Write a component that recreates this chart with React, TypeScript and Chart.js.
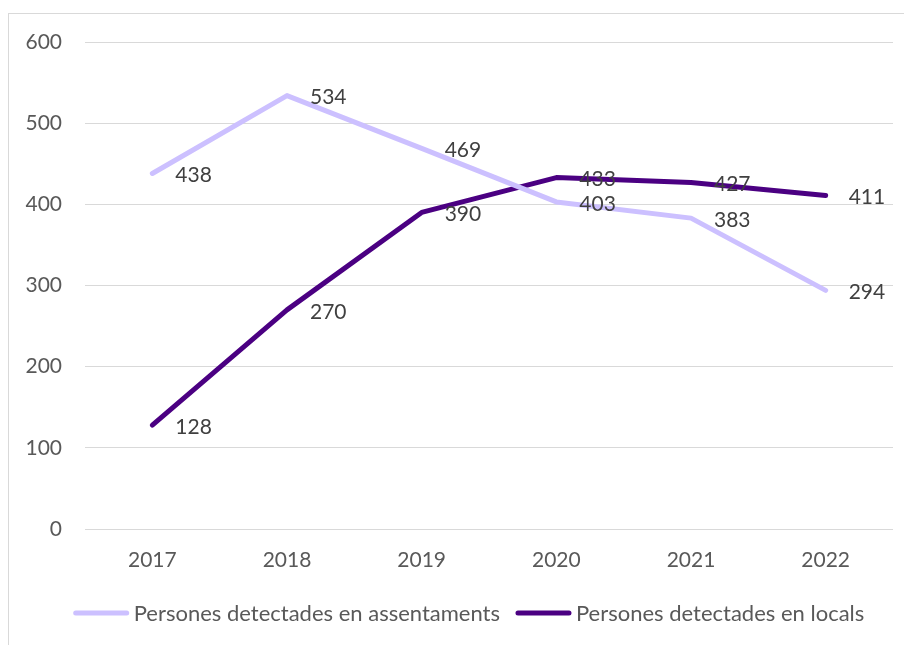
import React, { useEffect, useRef } from "react";
import { Chart, registerables } from "chart.js";

Chart.register(...registerables);

const categories = ["2017", "2018", "2019", "2020", "2021", "2022"];
const seriesNames = ["Persones detectades en assentaments", "Persones detectades en locals"];
const assentaments = [438, 534, 469, 403, 383, 294];
const locals = [128, 270, 390, 433, 427, 411];
const yTicks = [0, 100, 200, 300, 400, 500, 600];

const FONT = "Lato, 'Open Sans', sans-serif";
const FONT_SIZE = 21;
const LEGEND_FONT_SIZE = 22;
const LIGHT = "#CCC0FF";
const DARK = "#4B0082";

const labelPlugin = {
  id: "valueLabels",
  afterDatasetsDraw(chart: any) {
    const ctx = chart.ctx;
    ctx.save();
    ctx.font = `${FONT_SIZE}px ${FONT}`;
    ctx.fillStyle = "#404040";
    ctx.textAlign = "left";
    ctx.textBaseline = "middle";
    chart.data.datasets.forEach((ds: any, i: number) => {
      const meta = chart.getDatasetMeta(i);
      meta.data.forEach((pt: any, j: number) => {
        ctx.fillText(String(ds.data[j]), pt.x + 23, pt.y + 2);
      });
    });
    ctx.restore();
  },
};

const legendPlugin = {
  id: "customLegend",
  afterDraw(chart: any) {
    const ctx = chart.ctx;
    ctx.save();
    ctx.font = `${LEGEND_FONT_SIZE}px ${FONT}`;
    const lineLen = 55;
    const gap = 5;
    const spacing = 16;
    const items = chart.data.datasets.map((ds: any) => ({
      text: ds.label,
      color: ds.borderColor,
      w: lineLen + gap + ctx.measureText(ds.label).width,
    }));
    const total = items.reduce((s: number, it: any) => s + it.w, 0) + spacing * (items.length - 1);
    let x = 460 - total / 2;
    const y = 599;
    items.forEach((it: any) => {
      ctx.strokeStyle = it.color;
      ctx.lineWidth = 5;
      ctx.lineCap = "round";
      ctx.beginPath();
      ctx.moveTo(x + 2, y);
      ctx.lineTo(x + lineLen - 2, y);
      ctx.stroke();
      ctx.fillStyle = "#595959";
      ctx.textAlign = "left";
      ctx.textBaseline = "middle";
      ctx.fillText(it.text, x + lineLen + gap, y + 1);
      x += it.w + spacing;
    });
    ctx.restore();
  },
};

export default function App() {
  const ref = useRef<HTMLCanvasElement | null>(null);
  useEffect(() => {
    if (!ref.current) return;
    const chart = new Chart(ref.current, {
      type: "line",
      data: {
        labels: categories,
        datasets: [
          {
            label: seriesNames[0],
            data: assentaments,
            borderColor: LIGHT,
            backgroundColor: LIGHT,
            borderWidth: 5,
            borderCapStyle: "round",
            borderJoinStyle: "round",
            pointRadius: 0,
            tension: 0,
          },
          {
            label: seriesNames[1],
            data: locals,
            borderColor: DARK,
            backgroundColor: DARK,
            borderWidth: 5,
            borderCapStyle: "round",
            borderJoinStyle: "round",
            pointRadius: 0,
            tension: 0,
          },
        ],
      },
      options: {
        animation: false,
        responsive: false,
        maintainAspectRatio: false,
        layout: { padding: { top: 28, right: 19, bottom: 76, left: 0 } },
        plugins: {
          legend: { display: false },
          tooltip: { enabled: false },
        },
        scales: {
          x: {
            offset: true,
            grid: { display: false, drawTicks: false },
            border: { display: false },
            ticks: {
              padding: 19,
              color: "#595959",
              font: { family: FONT, size: FONT_SIZE },
              maxRotation: 0,
            },
            afterFit(scale: any) {
              scale.height = 40;
            },
          },
          y: {
            min: 0,
            max: 600,
            afterBuildTicks(scale: any) {
              scale.ticks = yTicks.map((v) => ({ value: v }));
            },
            grid: { color: "#D9D9D9", lineWidth: 1, drawTicks: false },
            border: { display: false },
            ticks: {
              padding: 23,
              color: "#595959",
              font: { family: FONT, size: FONT_SIZE },
            },
            afterFit(scale: any) {
              scale.width = 76;
              scale.paddingTop = 0;
              scale.paddingBottom = 0;
            },
          },
        },
      },
      plugins: [labelPlugin, legendPlugin],
    } as any);
    return () => chart.destroy();
  }, []);
  return (
    <div style={{ paddingTop: 5 }}>
      <div
        style={{
          width: 904,
          height: 632,
          borderLeft: "1px solid #D9D9D9",
          borderTop: "1px solid #D9D9D9",
          boxSizing: "border-box",
        }}
      >
        <canvas ref={ref} width={903} height={631} style={{ display: "block" }} />
      </div>
    </div>
  );
}
